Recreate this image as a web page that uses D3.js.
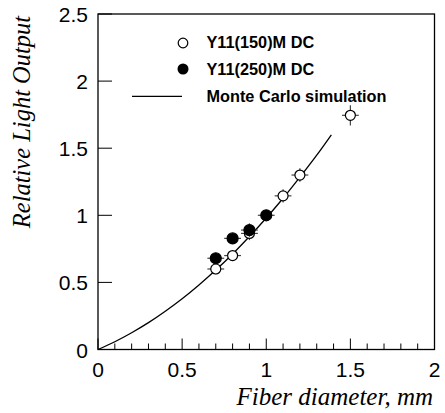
<!DOCTYPE html>
<html><head><meta charset="utf-8">
<script src="https://cdn.jsdelivr.net/npm/d3@7"></script>
<style>body{margin:0;background:#fff}</style>
</head><body>
<script>
// Data
const openX = [0.7, 0.8, 0.9, 1.1, 1.2, 1.5];
const openY = [0.60, 0.70, 0.865, 1.145, 1.30, 1.745];
const openYErr = [0.04, 0.03, 0.05, 0.05, 0.05, 0.075];
const filledX = [0.7, 0.8, 0.9, 1.0];
const filledY = [0.68, 0.828, 0.89, 1.0];
const filledYErr = [0.03, 0.03, 0.05, 0.03];
const xErr = 0.05;
const mcX = [0, 0.1, 0.2, 0.3, 0.4, 0.5, 0.6, 0.7, 0.8, 0.9, 1.0, 1.1, 1.2, 1.3, 1.387];
const mcY = [0, 0.058, 0.125, 0.200, 0.285, 0.378, 0.481, 0.592, 0.712, 0.842, 0.98, 1.127, 1.284, 1.448, 1.60];
const xTicks = [0, 0.5, 1, 1.5, 2];
const yTicks = [0, 0.5, 1, 1.5, 2, 2.5];
const legendLabels = ["Y11(150)M DC", "Y11(250)M DC", "Monte Carlo simulation"];
const xTitle = "Fiber diameter, mm";
const yTitle = "Relative Light Output";

const W = 445, H = 413;
const L = 98, R = 434.5, T = 14, B = 349.5;
const svg = d3.select("body").append("svg").attr("width", W).attr("height", H);
const x = d3.scaleLinear().domain([0, 2]).range([L, R]);
const y = d3.scaleLinear().domain([0, 2.5]).range([B, T]);
const sans = "Liberation Sans, Arial, Helvetica, sans-serif";
const serif = "Liberation Serif, Times New Roman, serif";

// frame
svg.append("rect").attr("x", L).attr("y", T).attr("width", R - L).attr("height", B - T)
  .attr("fill", "none").attr("stroke", "#000").attr("stroke-width", 1.3);

// x ticks (inward)
const xMinor = d3.range(0, 2.0001, 0.1);
svg.append("g").selectAll("line").data(xMinor).join("line")
  .attr("x1", d => x(d)).attr("x2", d => x(d))
  .attr("y1", B).attr("y2", (d, i) => B - (i % 5 === 0 ? 11 : 6))
  .attr("stroke", "#000").attr("stroke-width", 1);
svg.append("g").selectAll("text").data(xTicks).join("text")
  .attr("x", d => x(d)).attr("y", 377).attr("text-anchor", "middle")
  .attr("font-family", sans).attr("font-size", 21)
  .text(d => d3.format("")(d));

// y ticks
svg.append("g").selectAll("line").data(yTicks).join("line")
  .attr("x1", L).attr("x2", L + 14)
  .attr("y1", d => y(d)).attr("y2", d => y(d))
  .attr("stroke", "#000").attr("stroke-width", 1);
svg.append("g").selectAll("text").data(yTicks).join("text")
  .attr("x", 88).attr("y", d => y(d) + 8).attr("text-anchor", "end")
  .attr("font-family", sans).attr("font-size", 21)
  .text(d => d3.format("")(d));

// titles
svg.append("text").attr("x", 433).attr("y", 405).attr("text-anchor", "end")
  .attr("font-family", serif).attr("font-style", "italic")
  .attr("font-size", 25).text(xTitle);
svg.append("text").attr("transform", "translate(30,122) rotate(-90)").attr("text-anchor", "middle")
  .attr("font-family", serif).attr("font-style", "italic")
  .attr("font-size", 24.5).text(yTitle);

// MC curve
const line = d3.line().x(d => x(d[0])).y(d => y(d[1])).curve(d3.curveMonotoneX);
svg.append("path").datum(mcX.map((v, i) => [v, mcY[i]])).attr("d", line)
  .attr("fill", "none").attr("stroke", "#000").attr("stroke-width", 1.3);

function drawPoints(xs, ys, yes, filled) {
  const g = svg.append("g");
  xs.forEach((xv, i) => {
    const cx = x(xv), cy = y(ys[i]);
    g.append("line").attr("x1", x(xv - xErr)).attr("x2", x(xv + xErr)).attr("y1", cy).attr("y2", cy)
      .attr("stroke", "#444").attr("stroke-width", 1.2);
    g.append("line").attr("x1", cx).attr("x2", cx).attr("y1", y(ys[i] - yes[i])).attr("y2", y(ys[i] + yes[i]))
      .attr("stroke", "#444").attr("stroke-width", 1.2);
    g.append("circle").attr("cx", cx).attr("cy", cy).attr("r", filled ? 5.5 : 5)
      .attr("fill", filled ? "#000" : "#fff").attr("stroke", "#000").attr("stroke-width", 1.2);
  });
}
drawPoints(openX, openY, openYErr, false);
drawPoints(filledX, filledY, filledYErr, true);

// legend
svg.append("circle").attr("cx", 183).attr("cy", 43).attr("r", 4.8).attr("fill", "#fff").attr("stroke", "#000").attr("stroke-width", 1.2);
svg.append("circle").attr("cx", 183).attr("cy", 69).attr("r", 5.5).attr("fill", "#000");
svg.append("line").attr("x1", 132).attr("x2", 182).attr("y1", 96.3).attr("y2", 96.3).attr("stroke", "#000").attr("stroke-width", 1.3);
[48, 74.5, 102].forEach((yy, i) => {
  svg.append("text").attr("x", 206.5).attr("y", yy).attr("font-family", sans).attr("font-weight", "bold")
    .attr("font-size", 16.3).text(legendLabels[i]);
});
</script>
</body></html>
